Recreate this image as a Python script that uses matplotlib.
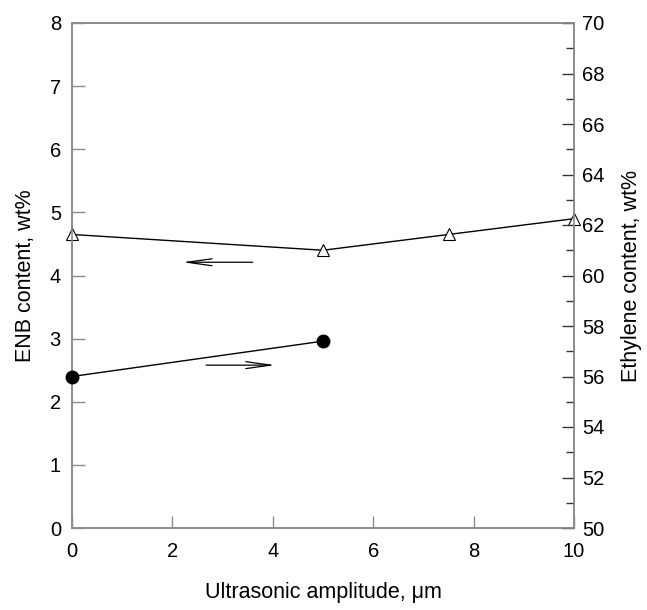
import matplotlib
matplotlib.use("Agg")
import matplotlib.pyplot as plt
from matplotlib.ticker import MultipleLocator

plt.rcParams['font.family'] = ['Liberation Sans', 'DejaVu Sans']

amp_enb = [0, 5, 7.5, 10]
enb = [4.65, 4.4, 4.65, 4.9]
amp_eth = [0, 5]
ethylene = [56.0, 57.4]

fig = plt.figure(figsize=(6.47, 6.10), dpi=100)
ax = fig.add_axes([72/647, 1-528/610, (574-72)/647, (528-23)/610])
ax2 = ax.twinx()

gray = '#8c8c8c'
ax.plot(amp_enb, enb, color='black', lw=1.0, marker='^', ms=9, mfc='white', mec='black', mew=0.8, clip_on=False, zorder=5)
ax2.plot(amp_eth, ethylene, color='black', lw=1.0, marker='o', ms=9, mfc='black', mec='black', clip_on=False, zorder=5)

ax.set_xlim(0, 10)
ax.set_ylim(0, 8)
ax2.set_ylim(50, 70)
ax.xaxis.set_major_locator(MultipleLocator(2))
ax.yaxis.set_major_locator(MultipleLocator(1))
ax2.yaxis.set_major_locator(MultipleLocator(2))
ax2.yaxis.set_minor_locator(MultipleLocator(1))

for a in (ax, ax2):
    for s in a.spines.values():
        s.set_color(gray)
        s.set_linewidth(1.2)
ax.tick_params(axis='both', direction='in', length=9, width=1, color=gray, labelsize=14.5, pad=8)
ax.tick_params(axis='x', pad=10)
ax.tick_params(top=False, right=False)
ax2.tick_params(axis='y', which='major', direction='in', length=9, width=1, color='#333333', labelsize=14.5, pad=6)
ax2.tick_params(axis='y', which='minor', direction='in', length=6, width=1, color='#333333')

ax.set_xlabel('Ultrasonic amplitude, μm', fontsize=15.5, labelpad=15)
ax.set_ylabel('ENB content, wt%', fontsize=15.5, labelpad=10)
ax2.set_ylabel('Ethylene content, wt%', fontsize=15.5, labelpad=12)

astyle = dict(arrowstyle='->,head_length=1.8,head_width=0.25', color='black', lw=0.9, shrinkA=0, shrinkB=0)
ax.annotate('', xy=(2.2, 4.21), xytext=(3.6, 4.21), arrowprops=astyle)
ax.annotate('', xy=(4.05, 2.58), xytext=(2.67, 2.58), arrowprops=astyle)

fig.savefig('out.png', dpi=100)
